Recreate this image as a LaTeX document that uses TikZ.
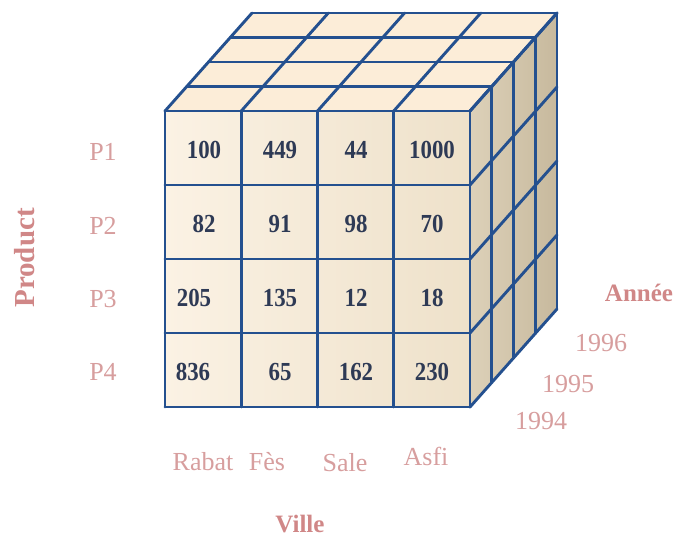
\documentclass[tikz,border=0pt]{standalone}
\usepackage{fontspec}
\setmainfont{Liberation Serif}
\newfontfamily\cellfont{Liberation Serif}[FakeStretch=0.88]
\definecolor{gridblue}{HTML}{24508F}
\definecolor{cellink}{HTML}{2E3A55}
\definecolor{pinklbl}{HTML}{D79E9E}
\definecolor{pinkbold}{HTML}{D08787}
\definecolor{frontL}{HTML}{FBF2E4}
\definecolor{frontR}{HTML}{EEE1CA}
\definecolor{sideL}{HTML}{DDD1B9}
\definecolor{sideR}{HTML}{C7B99D}
\definecolor{topc}{HTML}{FCEDD8}
\tikzset{
  gridline/.style={draw=gridblue,line width=2.9pt,line join=round,line cap=round},
  cellval/.style={font=\cellfont\fontsize{26}{30}\selectfont\bfseries,text=cellink,inner sep=0pt},
  lbl/.style={font=\fontsize{26}{30}\selectfont,text=pinklbl,inner sep=0pt},
  boldlbl/.style={font=\fontsize{25}{30}\selectfont\bfseries,text=pinkbold,inner sep=0pt}
}
\begin{document}
\begin{tikzpicture}[x=1pt,y=-1pt]
\useasboundingbox (0,0) rectangle (674,539);
% geometry
\def\xa{165}\def\xb{470}\def\ya{111}\def\yb{407}
\def\cw{76.25}\def\rh{74}\def\dx{21.75}\def\dy{24.5}
% faces
\fill[topc] (165,111) -- (470,111) -- (557,13) -- (252,13) -- cycle;
\shade[left color=frontL,right color=frontR] (165,111) rectangle (470,407);
\shade[left color=sideL,right color=sideR] (470,111) -- (557,13) -- (557,309) -- (470,407) -- cycle;
% front grid
\foreach \i in {0,...,4}{
  \draw[gridline] ({\xa+\i*\cw},\ya) -- ({\xa+\i*\cw},\yb);
  \draw[gridline] (\xa,{\ya+\i*\rh}) -- (\xb,{\ya+\i*\rh});
}
% top grid
\foreach \i in {0,...,4}{
  \draw[gridline] ({\xa+\i*\cw},\ya) -- ({\xa+\i*\cw+4*\dx},{\ya-4*\dy});
  \draw[gridline] ({\xa+\i*\dx},{\ya-\i*\dy}) -- ({\xb+\i*\dx},{\ya-\i*\dy});
}
% side grid
\foreach \i in {0,...,4}{
  \draw[gridline] ({\xb+\i*\dx},{\ya-\i*\dy}) -- ({\xb+\i*\dx},{\yb-\i*\dy});
  \draw[gridline] (\xb,{\ya+\i*\rh}) -- ({\xb+4*\dx},{\ya+\i*\rh-4*\dy});
}
% cell values
\node[cellval] (c11) at (204,150) {100};
\node[cellval] (c12) at (280,150) {449};
\node[cellval] (c13) at (356,150) {44};
\node[cellval] (c14) at (432,150) {1000};
\node[cellval] (c21) at (204,224) {82};
\node[cellval] (c22) at (280,224) {91};
\node[cellval] (c23) at (356,224) {98};
\node[cellval] (c24) at (432,224) {70};
\node[cellval] (c31) at (194,298) {205};
\node[cellval] (c32) at (280,298) {135};
\node[cellval] (c33) at (356,298) {12};
\node[cellval] (c34) at (432,298) {18};
\node[cellval] (c41) at (193,372) {836};
\node[cellval] (c42) at (280,372) {65};
\node[cellval] (c43) at (356,372) {162};
\node[cellval] (c44) at (432,372) {230};
% product labels
\node[lbl] (p1) at (103,152) {P1};
\node[lbl] (p2) at (103,226) {P2};
\node[lbl] (p3) at (103,299) {P3};
\node[lbl] (p4) at (103,372) {P4};
\node[boldlbl,font=\fontsize{29}{33}\selectfont\bfseries,rotate=90] (product) at (25,258) {Product};
% city labels
\node[lbl] (rabat) at (203,462) {Rabat};
\node[lbl] (fes) at (267,462) {Fès};
\node[lbl] (sale) at (345,463) {Sale};
\node[lbl] (asfi) at (426,456) {Asfi};
\node[boldlbl] (ville) at (300,524) {Ville};
% year labels
\node[lbl] (y94) at (541,421) {1994};
\node[lbl] (y95) at (568,384) {1995};
\node[lbl] (y96) at (601,343) {1996};
\node[boldlbl] (annee) at (639,293) {Année};
\end{tikzpicture}
\end{document}
